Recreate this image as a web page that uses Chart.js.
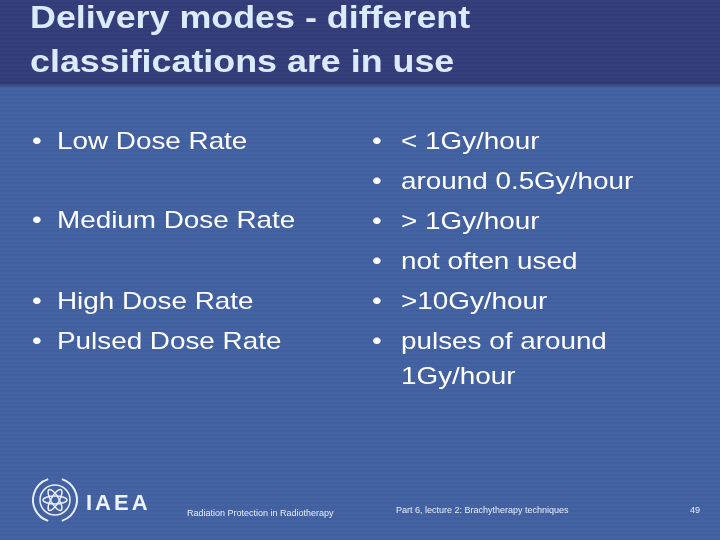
<!DOCTYPE html><html><head><meta charset="utf-8">
<script src="https://cdn.jsdelivr.net/npm/chart.js@4"></script>
<style>
html,body{margin:0;padding:0;width:720px;height:540px;overflow:hidden}
body{position:relative;font-family:"Liberation Sans",Arial,sans-serif;
background:repeating-linear-gradient(180deg,#4563a3 0px,#4563a3 2px,#4160a0 2px,#4160a0 4px);}
#top{position:absolute;left:0;top:0;width:720px;height:82px;background:repeating-linear-gradient(180deg,#363f7b 0,#363f7b 2px,#333c77 2px,#333c77 4px);}
#top:after{content:"";position:absolute;left:0;bottom:-6px;width:720px;height:6px;background:linear-gradient(#2b3366,#4563a3)}
canvas{position:absolute;left:0;top:0}
.t{position:absolute;color:#fff;white-space:nowrap;transform-origin:0 0}
.title{color:#d9ebfc;font-weight:bold;font-size:32px;left:30px;line-height:44px;transform:scaleX(1.12)}
.b{font-size:24px;line-height:24px;transform:scaleX(1.16)}
.f{font-size:9px;color:#e6eefc}
</style></head><body>
<div id="top"></div>
<canvas id="c" width="720" height="540"></canvas>
<div id="txt"></div>
<script>
const titleLines=["Delivery modes - different","classifications are in use"];
const leftItems=[["Low Dose Rate",142],["Medium Dose Rate",221],["High Dose Rate",302],["Pulsed Dose Rate",342]];
const rightItems=[["< 1Gy/hour",142,true],["around 0.5Gy/hour",182,true],["> 1Gy/hour",222,true],["not often used",262,true],[">10Gy/hour",302,true],["pulses of around",342,true],["1Gy/hour",377,false]];
const footer=[["Radiation Protection in Radiotherapy",187,514],["Part 6, lecture 2: Brachytherapy techniques",396,511],["49",690,511]];
const el=document.getElementById('txt');
function add(cls,text,x,y,extra){const d=document.createElement('div');d.className='t '+cls;d.textContent=text;d.style.left=x+'px';d.style.top=y+'px';if(extra)Object.assign(d.style,extra);el.appendChild(d);}
titleLines.forEach((s,i)=>add('title',s,30,-5+i*44));
leftItems.forEach(([s,y])=>{add('b','•',32,y-13);add('b',s,57,y-13);});
rightItems.forEach(([s,y,bu])=>{if(bu)add('b','•',372,y-13);add('b',s,401,y-13);});
footer.forEach(([s,x,y])=>add('f',s,x,y-6));
add('','IAEA',86,490,{fontWeight:'bold',color:'#eef3fc',fontSize:'22px',letterSpacing:'3px'});
new Chart(document.getElementById('c'),{type:'scatter',data:{datasets:[]},
options:{responsive:false,animation:false,events:[],plugins:{legend:{display:false},tooltip:{enabled:false}},
scales:{x:{display:false},y:{display:false}}},
plugins:[{id:'logo',afterDraw(ch){const g=ch.ctx;g.save();g.strokeStyle='#e8eefa';g.lineWidth=1.5;
g.beginPath();g.arc(55,500,15,0,Math.PI*2);g.stroke();
for(let a=0;a<3;a++){g.beginPath();g.ellipse(55,500,12,4,a*Math.PI/3,0,Math.PI*2);g.stroke();}
g.lineWidth=2;g.beginPath();g.arc(55,500,22,Math.PI*0.6,Math.PI*1.4);g.stroke();
g.beginPath();g.arc(55,500,22,-Math.PI*0.4,Math.PI*0.4);g.stroke();g.restore();}}]});
</script></body></html>
